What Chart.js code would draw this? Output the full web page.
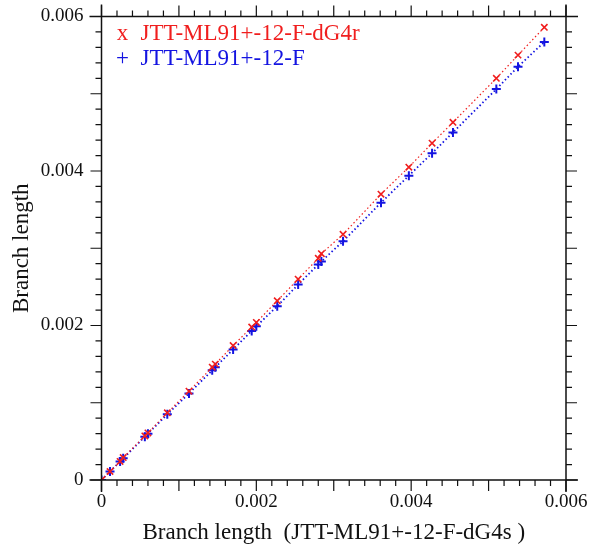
<!DOCTYPE html>
<html>
<head>
<meta charset="utf-8">
<script src="https://cdn.jsdelivr.net/npm/chart.js@4"></script>
<style>
  body { margin: 0; background: #fff; }
  #wrap { width: 592px; height: 551px; }
</style>
</head>
<body>
<div id="wrap"><canvas id="branchChart" width="592" height="551"></canvas></div>
<script>
// Branch lengths
const xLengths = [0, 0.00011, 0.00024, 0.00028, 0.00056, 0.0006, 0.00085, 0.00113, 0.00143, 0.00147, 0.0017, 0.00194, 0.002, 0.00227, 0.00254, 0.0028, 0.00284, 0.00312, 0.00361, 0.00397, 0.00427, 0.00454, 0.0051, 0.00538, 0.00572];
const dG4rLengths = [0, 0.00011, 0.00024, 0.00029, 0.00057, 0.00061, 0.00087, 0.00115, 0.00146, 0.0015, 0.00174, 0.00198, 0.00204, 0.00232, 0.0026, 0.00287, 0.00293, 0.00318, 0.0037, 0.00405, 0.00436, 0.00463, 0.0052, 0.0055, 0.00586];
const fLengths = [0, 0.00011, 0.00024, 0.00028, 0.00056, 0.0006, 0.00085, 0.00112, 0.00142, 0.00146, 0.00169, 0.00193, 0.00199, 0.00225, 0.00253, 0.00279, 0.00283, 0.00309, 0.00359, 0.00394, 0.00423, 0.0045, 0.00506, 0.00535, 0.00567];

const seriesNames = ['JTT-ML91+-12-F-dG4r', 'JTT-ML91+-12-F'];
const legendMarks = ['x', '+'];
const axisMax = 0.006;
const minorStep = 0.0002;

const RED = 'rgb(240,30,30)';
const BLUE = 'rgb(20,20,225)';
const SERIF = '"Liberation Serif", "DejaVu Serif", serif';

function toPoints(xs, ys) {
    return xs.map((x, i) => ({ x: x, y: ys[i] }));
}

// Frame with overshooting lines and outward ticks on all four sides
const frameTicks = {
    id: 'frameTicks',
    afterDraw(chart) {
        const { ctx, chartArea: a, scales } = chart;
        const ext = 12;
        ctx.save();
        ctx.strokeStyle = '#111';
        ctx.lineWidth = 1.5;
        ctx.beginPath();
        ctx.moveTo(a.left - ext, a.bottom); ctx.lineTo(a.right + ext, a.bottom);
        ctx.moveTo(a.left - ext, a.top); ctx.lineTo(a.right + ext, a.top);
        ctx.moveTo(a.left, a.top - ext); ctx.lineTo(a.left, a.bottom + ext);
        ctx.moveTo(a.right, a.top - ext); ctx.lineTo(a.right, a.bottom + ext);
        ctx.stroke();

        ctx.lineWidth = 1.2;
        ctx.beginPath();
        const n = Math.round(axisMax / minorStep);
        for (let i = 0; i <= n; i++) {
            const v = i * minorStep;
            const len = i % 5 === 0 ? 11 : 6;
            const px = scales.x.getPixelForValue(v);
            const py = scales.y.getPixelForValue(v);
            ctx.moveTo(px, a.bottom); ctx.lineTo(px, a.bottom + len);
            ctx.moveTo(px, a.top); ctx.lineTo(px, a.top - len);
            ctx.moveTo(a.left, py); ctx.lineTo(a.left - len, py);
            ctx.moveTo(a.right, py); ctx.lineTo(a.right + len, py);
        }
        ctx.stroke();

        // legend in the top left corner
        ctx.font = '23px ' + SERIF;
        ctx.textBaseline = 'middle';
        const colors = [RED, BLUE];
        seriesNames.forEach((name, i) => {
            const y = a.top + 17 + i * 25;
            ctx.fillStyle = colors[i];
            ctx.textAlign = 'center';
            ctx.fillText(legendMarks[i], a.left + 21, y);
            ctx.textAlign = 'left';
            ctx.fillText(name, a.left + 39, y);
        });
        ctx.restore();
    }
};

const ctx = document.getElementById('branchChart').getContext('2d');
const branchChart = new Chart(ctx, {
    type: 'scatter',
    data: {
        datasets: [{
            label: seriesNames[0],
            data: toPoints(xLengths, dG4rLengths),
            showLine: true,
            borderColor: RED,
            borderWidth: 1.2,
            borderDash: [1.5, 2.5],
            pointStyle: 'crossRot',
            pointRadius: 4.5,
            pointBorderWidth: 1.6,
            pointBorderColor: RED
        }, {
            label: seriesNames[1],
            data: toPoints(xLengths, fLengths),
            showLine: true,
            borderColor: BLUE,
            borderWidth: 1.8,
            borderDash: [1.5, 2.5],
            pointStyle: 'cross',
            pointRadius: 4.5,
            pointBorderWidth: 2,
            pointBorderColor: BLUE
        }]
    },
    options: {
        responsive: false,
        animation: false,
        layout: { padding: { left: 0, right: 26, top: 16.5, bottom: 0 } },
        plugins: {
            legend: { display: false },
            tooltip: { enabled: false }
        },
        scales: {
            x: {
                type: 'linear',
                min: 0,
                max: axisMax,
                afterFit: (scale) => {
                    scale.height = 71;
                    scale.paddingLeft = 0;
                    scale.paddingRight = 0;
                },
                grid: { display: false, drawTicks: false },
                border: { display: false },
                ticks: {
                    stepSize: 0.002,
                    padding: 11,
                    color: '#111',
                    font: { family: SERIF, size: 19 },
                    maxRotation: 0,
                    callback: (v) => v === 0 ? '0' : v.toFixed(3)
                },
                title: {
                    display: true,
                    text: 'Branch length  (JTT-ML91+-12-F-dG4s )',
                    color: '#111',
                    font: { family: SERIF, size: 23 },
                    padding: { top: 0, bottom: 4 }
                }
            },
            y: {
                type: 'linear',
                min: 0,
                max: axisMax,
                afterFit: (scale) => {
                    scale.width = 101.5;
                    scale.paddingTop = 0;
                    scale.paddingBottom = 0;
                },
                grid: { display: false, drawTicks: false },
                border: { display: false },
                ticks: {
                    stepSize: 0.002,
                    padding: 18,
                    color: '#111',
                    font: { family: SERIF, size: 19 },
                    callback: (v) => v === 0 ? '0' : v.toFixed(3)
                },
                title: {
                    display: true,
                    text: 'Branch length',
                    color: '#111',
                    font: { family: SERIF, size: 23 },
                    padding: { top: 8, bottom: 0 }
                }
            }
        }
    },
    plugins: [frameTicks]
});
</script>
</body>
</html>
